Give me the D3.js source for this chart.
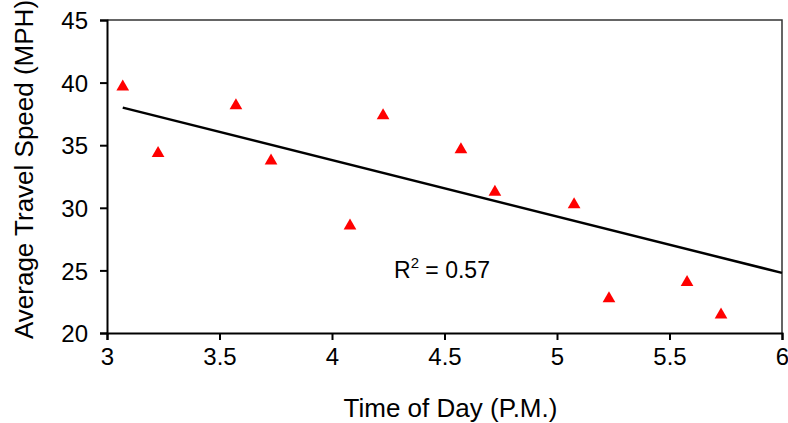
<!DOCTYPE html>
<html>
<head>
<meta charset="utf-8">
<script src="https://cdn.jsdelivr.net/npm/d3@7"></script>
<style>
  body { margin: 0; background: #fff; }
  text { font-family: Arial, "Liberation Sans", sans-serif; fill: #000; }
</style>
</head>
<body>
<div id="chart"></div>
<script>
// observed points (time in hours P.M., speed in MPH)
const timeOfDay = [3.07, 3.227, 3.573, 3.729, 4.08, 4.227, 4.573, 4.724, 5.076, 5.231, 5.578, 5.729];
const avgSpeed = [39.8, 34.5, 38.3, 33.9, 28.7, 37.5, 34.8, 31.4, 30.4, 22.9, 24.2, 21.6];

// linear trend line end points
const trendX = [3.07, 6];
const trendY = [38.0, 24.8];

const xTicks = [3, 3.5, 4, 4.5, 5, 5.5, 6];
const yTicks = [20, 25, 30, 35, 40, 45];
const rSquared = '0.57';

const width = 788, height = 423;
const margin = { top: 20, right: 6, bottom: 90, left: 107 };
const w = width - margin.left - margin.right;
const h = height - margin.top - margin.bottom;

const svg = d3.select('#chart')
  .append('svg')
  .attr('width', width)
  .attr('height', height);

const chart = svg.append('g')
  .attr('transform', `translate(${margin.left}, ${margin.top})`);

const x = d3.scaleLinear().domain([3, 6]).range([0, w]);
const y = d3.scaleLinear().domain([20, 45]).range([h, 0]);

// frame top/right
chart.append('path')
  .attr('d', `M0,0H${w}V${h}`)
  .attr('fill', 'none')
  .attr('stroke', '#333')
  .attr('stroke-width', 1.5);

const xAxis = d3.axisBottom(x).tickValues(xTicks).tickSize(7).tickPadding(8).tickFormat(d3.format('~g'));
const yAxis = d3.axisLeft(y).tickValues(yTicks).tickSize(7).tickPadding(12);

const gx = chart.append('g')
  .attr('transform', `translate(0, ${h})`)
  .call(xAxis);
const gy = chart.append('g').call(yAxis);

[gx, gy].forEach(g => {
  g.select('.domain').attr('stroke', '#000').attr('stroke-width', 2);
  g.selectAll('.tick line').attr('stroke', '#000').attr('stroke-width', 2);
  g.selectAll('.tick text')
    .style('font-family', 'Arial, "Liberation Sans", sans-serif')
    .style('font-size', '24px')
    .attr('fill', '#000');
});
gx.selectAll('.tick text').attr('dy', '0.71em');
gy.selectAll('.tick text').attr('dy', '0.36em');

// trend line
const line = d3.line().x(d => x(d[0])).y(d => y(d[1]));
chart.append('path')
  .datum(trendX.map((t, i) => [t, trendY[i]]))
  .attr('d', line)
  .attr('fill', 'none')
  .attr('stroke', '#000')
  .attr('stroke-width', 2.5);

// points (triangle shifted so its box is centred on the value)
const tri = d3.symbol().type(d3.symbolTriangle).size(70);
chart.selectAll('.pt')
  .data(timeOfDay)
  .enter()
  .append('path')
  .attr('class', 'pt')
  .attr('d', tri)
  .attr('transform', (d, i) => `translate(${x(d)}, ${y(avgSpeed[i]) + 1.8})`)
  .attr('fill', '#ff0000');

// R squared label
const r2 = chart.append('text')
  .attr('x', 394 - margin.left)
  .attr('y', 278 - margin.top)
  .style('font-size', '23px');
r2.append('tspan').text('R');
r2.append('tspan').attr('dy', -10).style('font-size', '15px').text('2');
r2.append('tspan').attr('dy', 10).text(' = ' + rSquared);

// axis titles
svg.append('text')
  .attr('x', margin.left + w / 2 + 6)
  .attr('y', 417)
  .attr('text-anchor', 'middle')
  .style('font-size', '26px')
  .text('Time of Day (P.M.)');

svg.append('text')
  .attr('transform', `translate(33, ${margin.top + h / 2 - 7}) rotate(-90)`)
  .attr('text-anchor', 'middle')
  .style('font-size', '26px')
  .text('Average Travel Speed (MPH)');
</script>
</body>
</html>
